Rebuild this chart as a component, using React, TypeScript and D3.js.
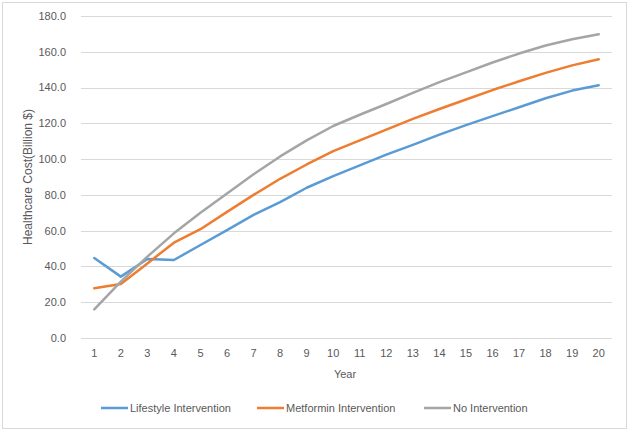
import React from "react";
import * as d3 from "d3";

const years = d3.range(1, 21).map(String);
const lifestyle = [44.7, 34.3, 44.2, 43.6, 52, 60.3, 68.8, 76, 84, 90.5, 96.5, 102.5, 108, 113.7, 119, 124, 129, 134, 138.3, 141.3];
const metformin = [27.8, 30.2, 41.7, 53.3, 60.8, 70.5, 80, 89, 97, 104.5, 110.5, 116.5, 122.5, 128, 133.3, 138.6, 143.5, 148.2, 152.4, 155.8];
const noIntervention = [16, 31.5, 45.5, 58.5, 70, 80.8, 91.5, 101.5, 110.5, 118.5, 124.8, 130.8, 137, 143, 148.5, 154, 159, 163.5, 167, 169.8];
const yTicks = [0, 20, 40, 60, 80, 100, 120, 140, 160, 180];
const seriesNames = ["Lifestyle Intervention", "Metformin Intervention", "No Intervention"];
const colors = ["#5B9BD5", "#ED7D31", "#A5A5A5"];

export default function App() {
  const W = 631, H = 436;
  const left = 81, right = 612, top = 16, bottom = 338;
  const x = d3.scaleBand<string>().domain(years).range([left, right]);
  const y = d3.scaleLinear().domain([0, 180]).range([bottom, top]);
  const line = d3
    .line<number>()
    .x((_, i) => (x(years[i]) as number) + x.bandwidth() / 2)
    .y((d) => y(d));
  const allSeries = [lifestyle, metformin, noIntervention];
  const font = "'Liberation Sans', Arial, sans-serif";
  const legendX = [101, 257, 424];
  return (
    <svg
      width={W}
      height={H}
      style={{ position: "absolute", left: 0, top: 0, background: "#fff" }}
      fontFamily={font}
    >
      <rect x={0} y={0} width={W} height={H} fill="#fff" />
      <rect x={2.5} y={2.5} width={624} height={426} fill="none" stroke="#D9D9D9" strokeWidth={1} />
      {yTicks.map((t) => (
        <g key={t}>
          <line x1={left} x2={right} y1={Math.round(y(t)) + 0.5} y2={Math.round(y(t)) + 0.5} stroke="#D9D9D9" strokeWidth={1} />
          <text x={66} y={y(t)} dy="0.35em" textAnchor="end" fontSize={11} fill="#595959">
            {t.toFixed(1)}
          </text>
        </g>
      ))}
      {years.map((yr) => (
        <text key={yr} x={(x(yr) as number) + x.bandwidth() / 2} y={357} textAnchor="middle" fontSize={11} fill="#595959">
          {yr}
        </text>
      ))}
      <text x={345} y={378} textAnchor="middle" fontSize={11} fill="#595959">Year</text>
      <text
        transform={`translate(32, ${(top + bottom) / 2}) rotate(-90)`}
        textAnchor="middle"
        fontSize={12}
        fill="#595959"
      >
        Healthcare Cost(Billion $)
      </text>
      {allSeries.map((s, i) => (
        <path key={i} d={line(s) as string} fill="none" stroke={colors[i]} strokeWidth={2.5} strokeLinejoin="round" strokeLinecap="round" />
      ))}
      {seriesNames.map((n, i) => (
        <g key={n}>
          <line x1={legendX[i]} x2={legendX[i] + 27} y1={408} y2={408} stroke={colors[i]} strokeWidth={2.5} />
          <text x={legendX[i] + 29} y={408} dy="0.35em" fontSize={11} fill="#595959">{n}</text>
        </g>
      ))}
    </svg>
  );
}
